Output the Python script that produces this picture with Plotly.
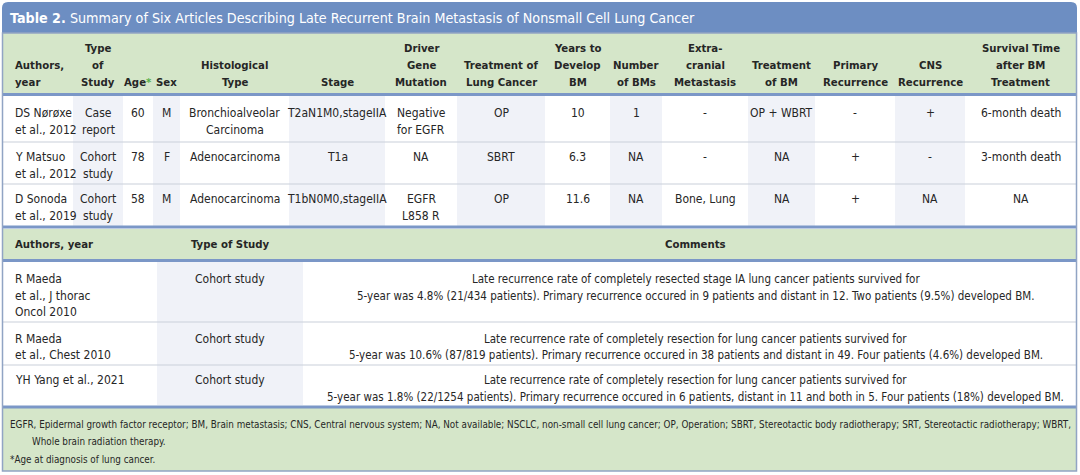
import plotly.graph_objects as go

# ---------------- data ----------------
title_bold = "Table 2."
title_rest = "Summary of Six Articles Describing Late Recurrent Brain Metastasis of Nonsmall Cell Lung Cancer"

headers_1 = ["Authors,<br>year", "Type<br>of<br>Study", "Age<span style='color:#55b04a'>*</span>", "Sex",
             "Histological<br>Type", "Stage", "Driver<br>Gene<br>Mutation", "Treatment of<br>Lung Cancer",
             "Years to<br>Develop<br>BM", "Number<br>of BMs", "Extra-<br>cranial<br>Metastasis",
             "Treatment<br>of BM", "Primary<br>Recurrence", "CNS<br>Recurrence",
             "Survival Time<br>after BM<br>Treatment"]

authors_1 = ["DS Nørøxe<br>et al., 2012", "Y Matsuo<br>et al., 2012", "D Sonoda<br>et al., 2019"]
study_1 = ["Case<br>report", "Cohort<br>study", "Cohort<br>study"]
age_1 = [60, 78, 58]
sex_1 = ["M", "F", "M"]
histology_1 = ["Bronchioalveolar<br>Carcinoma", "Adenocarcinoma", "Adenocarcinoma"]
stage_1 = ["T2aN1M0,stageIIA", "T1a", "T1bN0M0,stageIIA"]
driver_1 = ["Negative<br>for EGFR", "NA", "EGFR<br>L858 R"]
treat_lung_1 = ["OP", "SBRT", "OP"]
years_1 = ["10", "6.3", "11.6"]
num_bm_1 = ["1", "NA", "NA"]
extracranial_1 = ["-", "-", "Bone, Lung"]
treat_bm_1 = ["OP + WBRT", "NA", "NA"]
primary_1 = ["-", "+", "+"]
cns_1 = ["+", "-", "NA"]
survival_1 = ["6-month death", "3-month death", "NA"]

headers_2 = ["Authors, year", "Type of Study", "Comments"]
authors_2 = ["R Maeda<br>et al., J thorac<br>Oncol 2010", "R Maeda<br>et al., Chest 2010", "YH Yang et al., 2021"]
study_2 = ["Cohort study", "Cohort study", "Cohort study"]
comments_2 = [
    "Late recurrence rate of completely resected stage IA lung cancer patients survived for<br>"
    "5-year was 4.8% (21/434 patients). Primary recurrence occured in 9 patients and distant in 12. Two patients (9.5%) developed BM.",
    "Late recurrence rate of completely resection for lung cancer patients survived for<br>"
    "5-year was 10.6% (87/819 patients). Primary recurrence occured in 38 patients and distant in 49. Four patients (4.6%) developed BM.",
    "Late recurrence rate of completely resection for lung cancer patients survived for<br>"
    "5-year was 1.8% (22/1254 patients). Primary recurrence occured in 6 patients, distant in 11 and both in 5. Four patients (18%) developed BM.",
]

footnotes = [
    "EGFR, Epidermal growth factor receptor; BM, Brain metastasis; CNS, Central nervous system; NA, Not available; NSCLC, non-small cell lung cancer; OP, Operation; SBRT, Stereotactic body radiotherapy; SRT, Stereotactic radiotherapy; WBRT,",
    "Whole brain radiation therapy.",
    "*Age at diagnosis of lung cancer.",
]

# ---------------- style / layout constants ----------------
W, H = 1080, 475
FONT = "DejaVu Sans Condensed, Liberation Sans Narrow, Arial Narrow, sans-serif"
TXT = "#262626"
BLUE_BAR = "#6d8ec2"
BLUE_LINE = "#7b97c7"
GREEN = "#d5e6c9"
SHADE = "#f0f2f8"
GRAY_LINE = "#c9cfd9"
FRAME = "#91a4c4"

X0, X1 = 3, 1076
colw_1 = [70, 50, 30, 27, 109, 96, 72, 88, 65, 52, 86, 67, 80, 70, 111]
colw_2 = [154, 146, 773]
align_1 = ["left"] + ["center"] * 14
align_2 = ["left", "center", "center"]
COMMENT_SHIFT = 6   # comment text sits slightly right of the column centre

TITLE_TOP, TITLE_BOT = 2, 33
HEAD1_TOP, HEAD1_BOT = 33, 94
rowh_1 = [46, 42, 42]
ROWS1_TOP = 96
HEAD2_TOP, HEAD2_BOT = 229, 260
rowh_2 = [60, 43, 40]
ROWS2_TOP = 262
FOOT_TOP, FOOT_BOT = 408, 471

LH = 16.9          # line height of cell text
PAD = 10           # left padding of left-aligned cells
SZ_BODY, SZ_HEAD, SZ_COMMENT, SZ_TITLE, SZ_FOOT = 12, 11.3, 11.5, 14.2, 9.8


def edges(x0, widths):
    out = [x0]
    for w in widths:
        out.append(out[-1] + w)
    return out


shapes = []
annotations = []


def rect(x0, x1, y0, y1, fill):
    shapes.append(dict(type="rect", xref="x", yref="y", x0=x0, x1=x1, y0=y0, y1=y1,
                       fillcolor=fill, line=dict(width=0), layer="above"))


def hline(y, color, width):
    shapes.append(dict(type="line", xref="x", yref="y", x0=X0, x1=X1, y0=y, y1=y,
                       line=dict(color=color, width=width), layer="above"))


def cell_text(text, xl, xr, y_first, align, size, bold=False, shift=0):
    for i, ln in enumerate(str(text).split("<br>")):
        x = xl + PAD if align == "left" else (xl + xr) / 2 + shift
        annotations.append(dict(xref="x", yref="y", x=x, y=y_first + i * LH,
                                xanchor=align, yanchor="middle", showarrow=False,
                                text=f"<b>{ln}</b>" if bold else ln,
                                font=dict(family=FONT, size=size, color=TXT)))


def nlines(t):
    return str(t).count("<br>") + 1


xe1 = edges(X0, colw_1)
xe2 = edges(X0, colw_2)
ye1 = edges(ROWS1_TOP, rowh_1)
ye2 = edges(ROWS2_TOP, rowh_2)

cols_1 = [authors_1, study_1, age_1, sex_1, histology_1, stage_1, driver_1, treat_lung_1,
          years_1, num_bm_1, extracranial_1, treat_bm_1, primary_1, cns_1, survival_1]
cols_2 = [authors_2, study_2, comments_2]

# ---- backgrounds ----
rect(X0, X1, HEAD1_TOP, HEAD1_BOT, GREEN)
for j in range(1, len(colw_1), 2):
    rect(xe1[j], xe1[j + 1], ye1[0], ye1[-1], SHADE)
rect(X0, X1, HEAD2_TOP, HEAD2_BOT, GREEN)
for j in range(1, len(colw_2), 2):
    rect(xe2[j], xe2[j + 1], ye2[0], ye2[-1], SHADE)
rect(X0, X1, FOOT_TOP, FOOT_BOT, GREEN)

# ---- separators ----
for y in ye1[1:-1]:
    hline(y, GRAY_LINE, 1.2)
for y in ye2[1:-1]:
    hline(y, GRAY_LINE, 1.2)
for y in [HEAD1_BOT + 0.5, ye1[-1] + 1, HEAD2_BOT + 0.5, FOOT_TOP - 1]:
    hline(y, BLUE_LINE, 3)

# ---- title bar (rounded top corners) ----
r = 6
tx0, tx1 = X0 - 1, X1 + 1
shapes.append(dict(type="path", xref="x", yref="y",
                   path=f"M {tx0},{TITLE_BOT} L {tx0},{TITLE_TOP + r} Q {tx0},{TITLE_TOP} {tx0 + r},{TITLE_TOP} "
                        f"L {tx1 - r},{TITLE_TOP} Q {tx1},{TITLE_TOP} {tx1},{TITLE_TOP + r} L {tx1},{TITLE_BOT} Z",
                   fillcolor=BLUE_BAR, line=dict(width=0), layer="above"))
# ---- outer frame ----
shapes.append(dict(type="rect", xref="x", yref="y", x0=X0 - 0.5, x1=X1 + 0.5, y0=TITLE_BOT, y1=FOOT_BOT,
                   fillcolor="rgba(0,0,0,0)", line=dict(color=FRAME, width=1.5), layer="above"))

# ---- texts ----
annotations.append(dict(xref="x", yref="y", x=8, y=(TITLE_TOP + TITLE_BOT) / 2 + 0.5, xanchor="left",
                        yanchor="middle", showarrow=False, text=f"<b>{title_bold}</b> {title_rest}",
                        font=dict(family=FONT, size=SZ_TITLE, color="white")))

HEAD1_LAST = HEAD1_BOT - 12
for j, h in enumerate(headers_1):
    cell_text(h, xe1[j], xe1[j + 1], HEAD1_LAST - (nlines(h) - 1) * LH, align_1[j], SZ_HEAD, bold=True)

for i in range(len(rowh_1)):
    nmax = max(nlines(c[i]) for c in cols_1)
    y_first = ye1[i] + rowh_1[i] / 2 + 2.5 - (nmax - 1) * LH / 2
    for j, c in enumerate(cols_1):
        cell_text(c[i], xe1[j], xe1[j + 1], y_first, align_1[j], SZ_BODY)

for j, h in enumerate(headers_2):
    cell_text(h, xe2[j], xe2[j + 1], (HEAD2_TOP + HEAD2_BOT) / 2, align_2[j], SZ_HEAD, bold=True,
              shift=COMMENT_SHIFT if j == 2 else 0)

for i in range(len(rowh_2)):
    nmax = max(nlines(c[i]) for c in cols_2)
    y_first = ye2[i] + rowh_2[i] / 2 + 3.5 - (nmax - 1) * LH / 2
    for j, c in enumerate(cols_2):
        cell_text(c[i], xe2[j], xe2[j + 1], y_first, align_2[j],
                  SZ_COMMENT if j == 2 else SZ_BODY, shift=COMMENT_SHIFT if j == 2 else 0)

foot_y = [FOOT_TOP + 16, FOOT_TOP + 33, FOOT_TOP + 51]
foot_x = [8, 30, 8]
for t, yy, xx in zip(footnotes, foot_y, foot_x):
    annotations.append(dict(xref="x", yref="y", x=xx, y=yy, xanchor="left", yanchor="middle",
                            text=t, showarrow=False, font=dict(family=FONT, size=SZ_FOOT, color=TXT)))

fig = go.Figure()
fig.update_layout(width=W, height=H, margin=dict(l=0, r=0, t=0, b=0),
                  paper_bgcolor="white", plot_bgcolor="white", showlegend=False,
                  xaxis=dict(range=[0, W], visible=False, fixedrange=True),
                  yaxis=dict(range=[H, 0], visible=False, fixedrange=True),
                  shapes=shapes, annotations=annotations)

fig.write_html("out.html", config={"displayModeBar": False},
               post_script="document.body.style.margin='0';")
